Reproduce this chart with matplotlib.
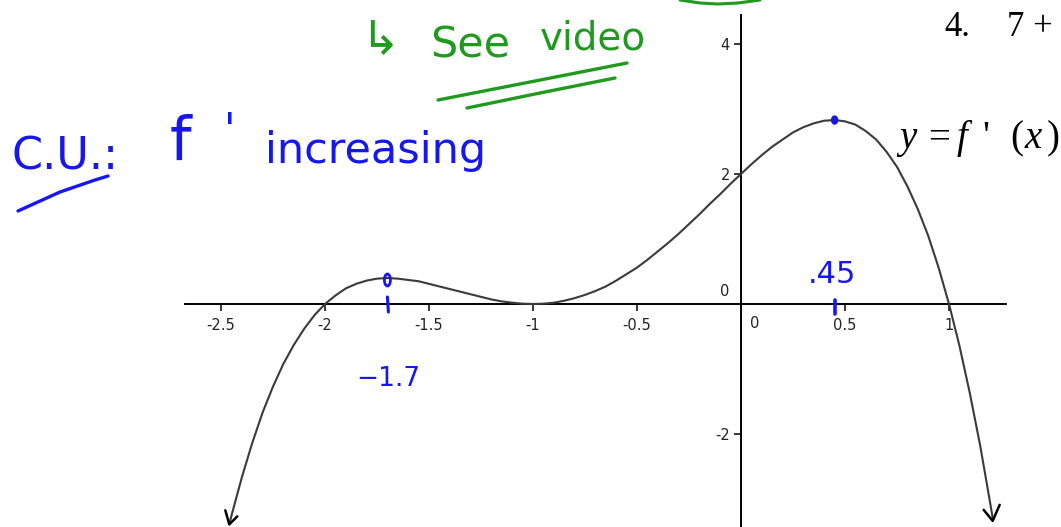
import matplotlib
matplotlib.use("Agg")
import matplotlib.pyplot as plt
import matplotlib.transforms as mtransforms
from matplotlib.patches import Ellipse

# y = f'(x), sampled along the drawn branch
x_vals = [-2.46, -2.45, -2.40, -2.35, -2.30, -2.25, -2.20, -2.15, -2.10, -2.05,
          -2.00, -1.95, -1.90, -1.85, -1.80, -1.75, -1.70, -1.65, -1.60, -1.55,
          -1.50, -1.45, -1.40, -1.35, -1.30, -1.25, -1.20, -1.15, -1.10, -1.05,
          -1.00, -0.95, -0.90, -0.85, -0.80, -0.75, -0.70, -0.65, -0.60, -0.55,
          -0.50, -0.45, -0.40, -0.35, -0.30, -0.25, -0.20, -0.15, -0.10, -0.05,
          0.00, 0.05, 0.10, 0.15, 0.20, 0.25, 0.30, 0.35, 0.40, 0.45,
          0.50, 0.55, 0.60, 0.65, 0.70, 0.75, 0.80, 0.85, 0.90, 0.95,
          1.00, 1.05, 1.10, 1.15, 1.20, 1.21]
y_vals = [-3.39, -3.26, -2.67, -2.14, -1.67, -1.27, -0.92, -0.63, -0.38, -0.17,
          0.00, 0.13, 0.24, 0.31, 0.36, 0.39, 0.40, 0.39, 0.37, 0.35,
          0.31, 0.27, 0.23, 0.19, 0.15, 0.11, 0.07, 0.04, 0.02, 0.005,
          0.00, 0.005, 0.02, 0.05, 0.09, 0.14, 0.20, 0.27, 0.36, 0.46,
          0.56, 0.68, 0.81, 0.94, 1.08, 1.23, 1.38, 1.54, 1.69, 1.85,
          2.00, 2.15, 2.29, 2.42, 2.53, 2.64, 2.72, 2.78, 2.82, 2.83,
          2.81, 2.76, 2.66, 2.53, 2.34, 2.11, 1.81, 1.46, 1.05, 0.56,
          0.00, -0.64, -1.37, -2.18, -3.10, -3.29]

x_ticks = [-2.5, -2, -1.5, -1, -0.5, 0.5, 1]
x_tick_labels = ["-2.5", "-2", "-1.5", "-1", "-0.5", "0.5", "1"]
y_ticks = [-2, 2, 4]
y_tick_labels = ["-2", "2", "4"]

# critical points marked by hand
local_max_x, local_max_y = -1.7, 0.40
peak_x, peak_y = 0.45, 2.83

W, H = 1061, 527
fig = plt.figure(figsize=(W / 100, H / 100), dpi=100)
fig.patch.set_facecolor("white")
ax = fig.add_axes([0, 0, 1, 1])
ax.set_xlim(-741 / 208, 320 / 208)
ax.set_ylim(-223 / 65, 304 / 65)
ax.set_facecolor("white")

# axes through the origin
for side in ("top", "right"):
    ax.spines[side].set_visible(False)
ax.spines["left"].set_position(("data", 0))
ax.spines["bottom"].set_position(("data", 0))
for side in ("left", "bottom"):
    ax.spines[side].set_linewidth(1.4)
    ax.spines[side].set_color("black")
ax.spines["bottom"].set_bounds(-2.673, 1.274)
ax.spines["left"].set_bounds(-223 / 65, 4.446)

ax.set_xticks(x_ticks)
ax.set_xticklabels(x_tick_labels)
ax.set_yticks(y_ticks)
ax.set_yticklabels(y_tick_labels)
ax.tick_params(axis="x", direction="out", length=5, width=1.1, pad=5,
               labelsize=10.5, labelcolor="#222222")
ax.tick_params(axis="y", direction="out", length=5, width=1.1, pad=3,
               labelsize=10.5, labelcolor="#222222")
for lbl in ax.get_xticklabels() + ax.get_yticklabels():
    lbl.set_fontfamily("DejaVu Sans")

# origin labels
pt = ax.transData
ax.text(0, 0, "0", transform=pt + mtransforms.ScaledTranslation(-16 / 100, 5 / 100, fig.dpi_scale_trans),
        fontsize=10.5, color="#222222", ha="center", va="bottom")
ax.text(0, 0, "0", transform=pt + mtransforms.ScaledTranslation(14 / 100, -12 / 100, fig.dpi_scale_trans),
        fontsize=10.5, color="#222222", ha="center", va="top")

# the curve
ax.plot(x_vals, y_vals, color="#3a3a3a", lw=1.5, solid_capstyle="round", zorder=3)

# pixel-space transform for the freehand ink
pix = mtransforms.Affine2D().scale(1 / W, -1 / H).translate(0, 1) + fig.transFigure


def to_pix(x, y):
    dx, dy = ax.transData.transform((x, y))
    return dx, H - dy


def stroke(pts, color, lw=2.2):
    xs = [p[0] for p in pts]
    ys = [p[1] for p in pts]
    ax.plot(xs, ys, transform=pix, color=color, lw=lw, solid_capstyle="round",
            solid_joinstyle="round", zorder=5, clip_on=False)


# hand-drawn arrowheads at both ends of the curve
lx, ly = to_pix(x_vals[0], y_vals[0])
stroke([(lx - 4, ly - 14), (lx, ly), (lx + 8, ly - 8)], "black", 1.8)
rx, ry = to_pix(x_vals[-1], y_vals[-1])
stroke([(rx - 9, ry - 8), (rx, ry + 3), (rx + 7, ry - 13)], "black", 1.8)

BLUE = "#1616ee"
GREEN = "#1f9a1f"
HAND = "DejaVu Sans"

# blue marks at the critical points
mx, my = to_pix(local_max_x, local_max_y)
ax.add_patch(Ellipse((mx, my + 2), 6, 12, transform=pix, fill=False,
                     edgecolor=BLUE, lw=2, zorder=6))
tx, _ = to_pix(local_max_x, 0)
stroke([(tx, 297), (tx + 1, 312)], BLUE, 2.2)
px_, py_ = to_pix(peak_x, peak_y)
ax.add_patch(Ellipse((px_, py_), 6, 8, transform=pix, color=BLUE, zorder=6))
tx2, _ = to_pix(peak_x, 0)
stroke([(tx2, 300), (tx2, 314)], BLUE, 2.6)

ax.text(808, 283, ".45", transform=pix, color=BLUE, fontsize=22, family=HAND)
ax.text(356, 386, "\u22121.7", transform=pix, color=BLUE, fontsize=19, family=HAND)

# concave-up note
ax.text(12, 170, "C.U.:", transform=pix, color=BLUE, fontsize=32, family=HAND)
stroke([(18, 211), (60, 192), (95, 180), (108, 176)], BLUE, 2.4)
ax.text(170, 160, "f", transform=pix, color=BLUE, fontsize=44, family=HAND)
ax.text(224, 143, "'", transform=pix, color=BLUE, fontsize=30, family=HAND)
ax.text(265, 163, "increasing", transform=pix, color=BLUE, fontsize=31, family=HAND)

# green note
ax.text(360, 54, "\u21b3", transform=pix, color=GREEN, fontsize=34, family=HAND)
ax.text(430, 57, "See", transform=pix, color=GREEN, fontsize=31, family=HAND)
ax.text(540, 50, "video", transform=pix, color=GREEN, fontsize=28, family=HAND)
stroke([(438, 100), (530, 82), (627, 63)], GREEN, 2.4)
stroke([(467, 108), (540, 93), (615, 78)], GREEN, 2.4)
stroke([(680, 0), (700, 3), (718, 4), (738, 3), (760, 0)], GREEN, 2.2)

# printed text
SERIF = "Liberation Serif"
ax.text(944, 36, "4.", transform=pix, color="black", fontsize=25, family=SERIF)
ax.text(1007, 36, "7 +", transform=pix, color="black", fontsize=25, family=SERIF)
ax.text(899, 148, "y", transform=pix, color="black", fontsize=28, family=SERIF, style="italic")
ax.text(928, 148, "=", transform=pix, color="black", fontsize=28, family=SERIF)
ax.text(957, 148, "f", transform=pix, color="black", fontsize=28, family=SERIF, style="italic")
ax.text(982, 148, "'", transform=pix, color="black", fontsize=28, family=SERIF)
ax.text(1010, 148, "(", transform=pix, color="black", fontsize=28, family=SERIF)
ax.text(1024, 148, "x", transform=pix, color="black", fontsize=28, family=SERIF, style="italic")
ax.text(1047, 148, ")", transform=pix, color="black", fontsize=28, family=SERIF)

fig.savefig("out.png", dpi=100, facecolor="white")
